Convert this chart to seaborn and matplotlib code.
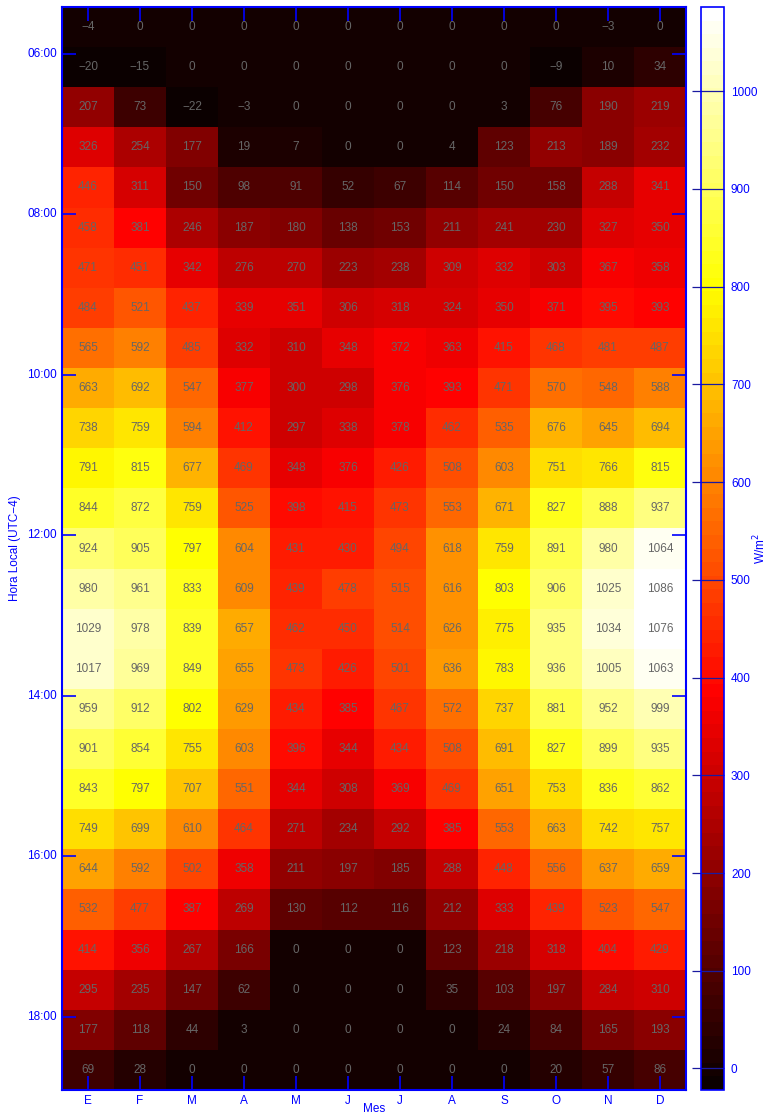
import numpy as np
import pandas as pd
import matplotlib
matplotlib.use("Agg")
import matplotlib.pyplot as plt
import seaborn as sns

months = ["E", "F", "M", "A", "M", "J", "J", "A", "S", "O", "N", "D"]
hour_labels = ["06:00", "08:00", "10:00", "12:00", "14:00", "16:00", "18:00"]
cbar_ticks = [0, 100, 200, 300, 400, 500, 600, 700, 800, 900, 1000]

r01 = [-4, 0, 0, 0, 0, 0, 0, 0, 0, 0, -3, 0]
r02 = [-20, -15, 0, 0, 0, 0, 0, 0, 0, -9, 10, 34]
r03 = [207, 73, -22, -3, 0, 0, 0, 0, 3, 76, 190, 219]
r04 = [326, 254, 177, 19, 7, 0, 0, 4, 123, 213, 189, 232]
r05 = [446, 311, 150, 98, 91, 52, 67, 114, 150, 158, 288, 341]
r06 = [458, 381, 246, 187, 180, 138, 153, 211, 241, 230, 327, 350]
r07 = [471, 451, 342, 276, 270, 223, 238, 309, 332, 303, 367, 358]
r08 = [484, 521, 437, 339, 351, 306, 318, 324, 350, 371, 395, 393]
r09 = [565, 592, 485, 332, 310, 348, 372, 363, 415, 468, 481, 487]
r10 = [663, 692, 547, 377, 300, 298, 376, 393, 471, 570, 548, 588]
r11 = [738, 759, 594, 412, 297, 338, 378, 462, 535, 676, 645, 694]
r12 = [791, 815, 677, 469, 348, 376, 426, 508, 603, 751, 766, 815]
r13 = [844, 872, 759, 525, 398, 415, 473, 553, 671, 827, 888, 937]
r14 = [924, 905, 797, 604, 431, 430, 494, 618, 759, 891, 980, 1064]
r15 = [980, 961, 833, 609, 439, 478, 515, 616, 803, 906, 1025, 1086]
r16 = [1029, 978, 839, 657, 462, 450, 514, 626, 775, 935, 1034, 1076]
r17 = [1017, 969, 849, 655, 473, 426, 501, 636, 783, 936, 1005, 1063]
r18 = [959, 912, 802, 629, 434, 385, 467, 572, 737, 881, 952, 999]
r19 = [901, 854, 755, 603, 396, 344, 434, 508, 691, 827, 899, 935]
r20 = [843, 797, 707, 551, 344, 308, 369, 469, 651, 753, 836, 862]
r21 = [749, 699, 610, 464, 271, 234, 292, 385, 553, 663, 742, 757]
r22 = [644, 592, 502, 358, 211, 197, 185, 288, 448, 556, 637, 659]
r23 = [532, 477, 387, 269, 130, 112, 116, 212, 333, 439, 523, 547]
r24 = [414, 356, 267, 166, 0, 0, 0, 123, 218, 318, 404, 429]
r25 = [295, 235, 147, 62, 0, 0, 0, 35, 103, 197, 284, 310]
r26 = [177, 118, 44, 3, 0, 0, 0, 0, 24, 84, 165, 193]
r27 = [69, 28, 0, 0, 0, 0, 0, 0, 0, 20, 57, 86]

rows = [r01, r02, r03, r04, r05, r06, r07, r08, r09, r10, r11, r12, r13, r14,
        r15, r16, r17, r18, r19, r20, r21, r22, r23, r24, r25, r26, r27]
data = pd.DataFrame(rows, columns=range(12))
labels = data.map(lambda v: str(v).replace("-", "\u2212"))

BLUE = "#0000ff"
plt.rcParams["font.family"] = ["Liberation Sans", "DejaVu Sans"]

W, H = 769, 1118
fig = plt.figure(figsize=(W / 100, H / 100), dpi=100)
ax = fig.add_axes([62 / W, 1 - 1090 / H, (686 - 62) / W, (1090 - 7) / H])
cax = fig.add_axes([701 / W, 1 - 1090 / H, 23 / W, (1090 - 7) / H])

vmin, vmax = float(np.min(rows)), float(np.max(rows))
sns.heatmap(data, ax=ax, cbar_ax=cax, cmap=plt.get_cmap("hot", 80),
            vmin=vmin, vmax=vmax, annot=labels, fmt="",
            annot_kws={"color": "#666666", "fontsize": 8.5})

ax.set_xticks(np.arange(12) + 0.5)
ax.set_xticklabels(months, color=BLUE, fontsize=8.5)
ax.set_yticks(np.arange(len(hour_labels)) * 4 + 1.17)
ax.set_yticklabels(hour_labels, color=BLUE, fontsize=8.5, rotation=0)
ax.tick_params(axis="both", direction="in", length=10, width=1.2, color=BLUE,
               top=True, right=True, bottom=True, left=True)
ax.set_xlabel("Mes", color=BLUE, fontsize=8.5, va="center")
ax.xaxis.set_label_coords(0.5, -19 / 1083)
ax.set_ylabel("Hora Local (UTC\u22124)", color=BLUE, fontsize=8.5, va="center")
ax.yaxis.set_label_coords((15 - 62) / 624, 0.5)
for s in ax.spines.values():
    s.set_visible(True)
    s.set_color(BLUE)
    s.set_linewidth(1.5)

cbar = ax.collections[0].colorbar
cbar.set_ticks(cbar_ticks)
cbar.ax.tick_params(direction="in", length=23, width=0.9, color="#1a1aa0",
                    labelcolor=BLUE, labelsize=8.5, pad=5)
cbar.outline.set_edgecolor(BLUE)
cbar.outline.set_linewidth(1.2)
cbar.set_label("W/m$^2$", color=BLUE, fontsize=8.5, va="center")
cbar.ax.yaxis.set_label_coords((760 - 701) / 23, 0.5)

fig.savefig("out.png", dpi=100)
